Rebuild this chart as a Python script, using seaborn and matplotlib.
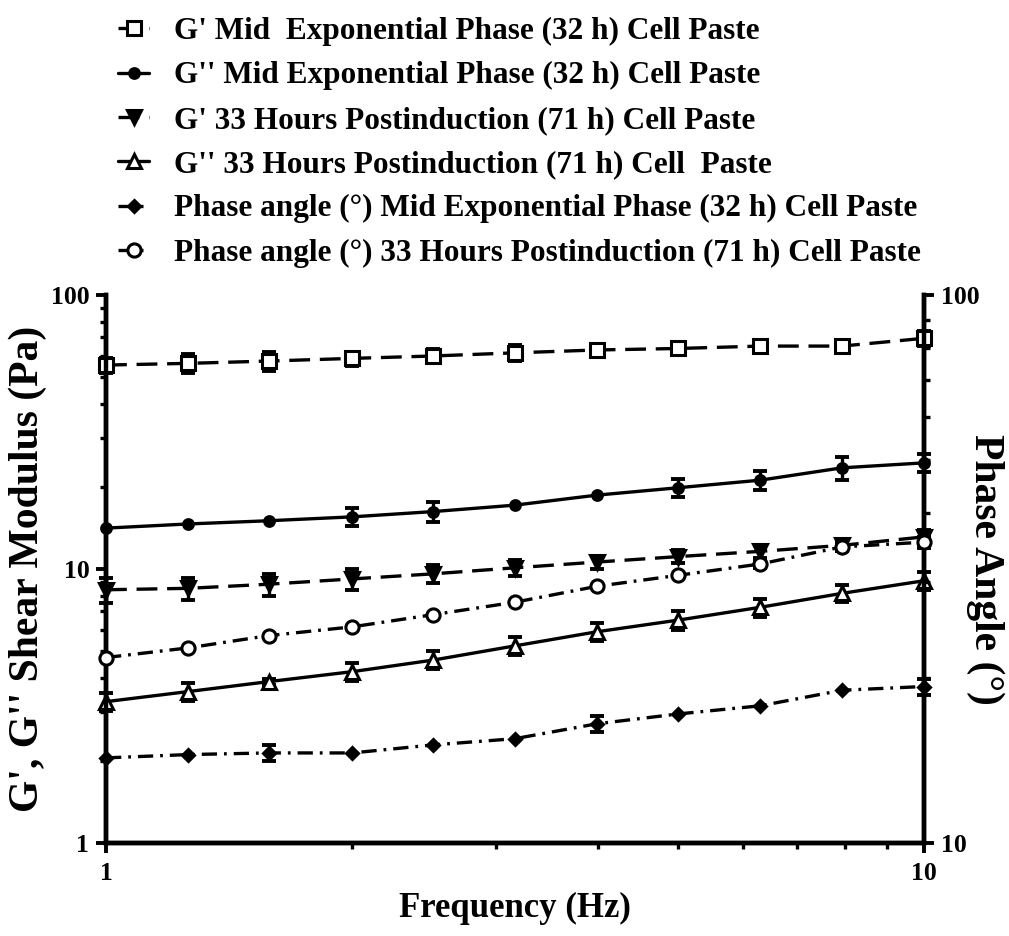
import numpy as np
import pandas as pd
import matplotlib
matplotlib.use("Agg")
import matplotlib.pyplot as plt
from matplotlib.ticker import FixedLocator, FixedFormatter, LogLocator, NullFormatter
import seaborn as sns

# Oscillatory frequency sweep (Hz)
freq_hz = [1.0, 1.26, 1.58, 2.0, 2.51, 3.16, 3.98, 5.01, 6.31, 7.94, 10.0]

# Storage / loss modulus (Pa), mid exponential phase (32 h) paste
g1_mid = [55.5, 56.3, 57.4, 58.7, 59.9, 61.5, 63.0, 63.8, 65.1, 65.1, 69.5]
g1_mid_err = [3.5, 4.5, 4.5, 3.5, 3.5, 4.0, 3.5, 3.5, 3.0, 1.5, 4.5]
g2_mid = [14.1, 14.6, 15.0, 15.5, 16.2, 17.1, 18.6, 19.8, 21.1, 23.4, 24.4]
g2_mid_err = [0, 0, 0, 1.2, 1.4, 0, 0, 1.5, 1.6, 2.3, 1.8]

# Storage / loss modulus (Pa), 33 h postinduction (71 h) paste
g1_post = [8.4, 8.5, 8.8, 9.2, 9.6, 10.1, 10.6, 11.1, 11.6, 12.2, 13.1]
g1_post_err = [0.9, 0.8, 0.8, 0.8, 0.7, 0.7, 0.6, 0.6, 0.6, 0.6, 0.8]
g2_post = [3.28, 3.57, 3.88, 4.22, 4.65, 5.24, 5.90, 6.51, 7.25, 8.15, 9.06]
g2_post_err = [0.26, 0.28, 0.1, 0.33, 0.35, 0.4, 0.45, 0.5, 0.55, 0.6, 0.7]

# Phase angle (degrees)
phase_mid = [14.3, 14.5, 14.6, 14.6, 15.1, 15.5, 16.5, 17.2, 17.8, 19.0, 19.3]
phase_mid_err = [0, 0, 0.5, 0, 0, 0, 0.55, 0, 0, 0, 0.65]
phase_post = [21.8, 22.7, 23.9, 24.8, 26.1, 27.5, 29.4, 30.8, 32.3, 34.7, 35.4]
phase_post_err = [0, 0, 0, 0, 0, 0, 0, 0, 0.6, 0.6, 0.8]

labels = [
    "G' Mid  Exponential Phase (32 h) Cell Paste",
    "G'' Mid Exponential Phase (32 h) Cell Paste",
    "G' 33 Hours Postinduction (71 h) Cell Paste",
    "G'' 33 Hours Postinduction (71 h) Cell  Paste",
    "Phase angle (\u00b0) Mid Exponential Phase (32 h) Cell Paste",
    "Phase angle (\u00b0) 33 Hours Postinduction (71 h) Cell Paste",
]

sns.set_style("ticks")
plt.rcParams.update({
    "font.family": ["Liberation Serif", "DejaVu Serif"],
    "font.weight": "bold",
    "axes.labelweight": "bold",
    "text.color": "black",
    "axes.labelcolor": "black",
    "axes.edgecolor": "black",
    "xtick.color": "black",
    "ytick.color": "black",
    "lines.scale_dashes": False,
})

DASH = (0, (15, 7))
DASHDOT = (0, (11, 5, 2, 5))
LW = 2.4

styles = [
    dict(marker="s", ms=9.5, mfc="white", ls=DASH),
    dict(marker="o", ms=7, mfc="black", ls="-"),
    dict(marker="v", ms=10, mfc="black", ls=DASH),
    dict(marker="^", ms=10, mfc="white", ls="-"),
    dict(marker="D", ms=6, mfc="black", ls=DASHDOT),
    dict(marker="o", ms=9.5, mfc="white", ls=DASHDOT),
]

series = [
    (g1_mid, g1_mid_err, "left"),
    (g2_mid, g2_mid_err, "left"),
    (g1_post, g1_post_err, "left"),
    (g2_post, g2_post_err, "left"),
    (phase_mid, phase_mid_err, "right"),
    (phase_post, phase_post_err, "right"),
]

W, H = 1009, 936
fig = plt.figure(figsize=(W / 100, H / 100), dpi=100)
ax = fig.add_axes([106 / W, 1 - 843 / H, (924 - 106) / W, (843 - 295) / H])
ax2 = ax.twinx()

handles = []
for (vals, err, side), st, lab in zip(series, styles, labels):
    target = ax if side == "left" else ax2
    df = pd.DataFrame({"freq": freq_hz, "value": vals})
    sns.lineplot(data=df, x="freq", y="value", ax=target, color="black",
                 linewidth=LW, linestyle=st["ls"], marker=st["marker"],
                 markersize=st["ms"], markerfacecolor=st["mfc"],
                 markeredgecolor="black", markeredgewidth=2.2,
                 label=lab, legend=False, clip_on=False, zorder=3)
    handles.append(target.get_lines()[-1])
    e = np.asarray(err, dtype=float)
    m = e > 0
    if m.any():
        target.errorbar(np.asarray(freq_hz)[m], np.asarray(vals)[m], yerr=e[m],
                        fmt="none", ecolor="black", elinewidth=2.4,
                        capsize=5, capthick=2.8, clip_on=False, zorder=2)

for a in (ax, ax2):
    a.set_xscale("log")
    a.set_yscale("log")
    a.set_xlim(1, 10)
    a.minorticks_on()
    a.tick_params(which="major", direction="out", length=7, width=2.8,
                  labelsize=18.5, pad=5, colors="black")
    a.tick_params(which="minor", direction="out", length=4.5, width=2.4,
                  colors="black")
    a.spines["top"].set_visible(False)
    for s in ("left", "right", "bottom"):
        a.spines[s].set_linewidth(3.2)
        a.spines[s].set_color("black")
    a.set_xlabel("")
    a.set_ylabel("")

ax.set_ylim(1, 100)
ax2.set_ylim(10, 100)

ax.xaxis.set_major_locator(FixedLocator([1, 10]))
ax.xaxis.set_major_formatter(FixedFormatter(["1", "10"]))
ax.xaxis.set_minor_locator(LogLocator(base=10, subs=np.arange(2, 10)))
ax.xaxis.set_minor_formatter(NullFormatter())
ax.yaxis.set_major_locator(FixedLocator([1, 10, 100]))
ax.yaxis.set_major_formatter(FixedFormatter(["1", "10", "100"]))
ax.yaxis.set_minor_locator(LogLocator(base=10, subs=np.arange(2, 10)))
ax.yaxis.set_minor_formatter(NullFormatter())
ax2.yaxis.set_major_locator(FixedLocator([10, 100]))
ax2.yaxis.set_major_formatter(FixedFormatter(["10", "100"]))
ax2.yaxis.set_minor_locator(LogLocator(base=10, subs=np.arange(2, 10)))
ax2.yaxis.set_minor_formatter(NullFormatter())
ax.tick_params(axis="x", pad=7)

ax.set_xlabel("Frequency (Hz)", fontsize=25, fontweight="bold", labelpad=5)
ax.set_ylabel("G', G'' Shear Modulus (Pa)", fontsize=30, fontweight="bold")
ax2.set_ylabel("Phase Angle (\u00b0)", fontsize=30, fontweight="bold", rotation=270)

# place the axis titles at fixed offsets from the spines
ax.yaxis.set_label_coords(-0.0954, 0.5)
ax.yaxis.label.set_verticalalignment("center")
ax2.yaxis.set_label_coords(1.0746, 0.5)
ax2.yaxis.label.set_verticalalignment("center")

fig.legend(handles, labels, loc="upper left",
           bbox_to_anchor=(118 / W, 1 - 17 / H), bbox_transform=fig.transFigure,
           frameon=False, handlelength=1.0, handletextpad=0.8,
           labelspacing=0.49, borderpad=0, borderaxespad=0,
           prop={"family": ["Liberation Serif"], "weight": "bold", "size": 22.5})

fig.savefig("out.png", dpi=100)
